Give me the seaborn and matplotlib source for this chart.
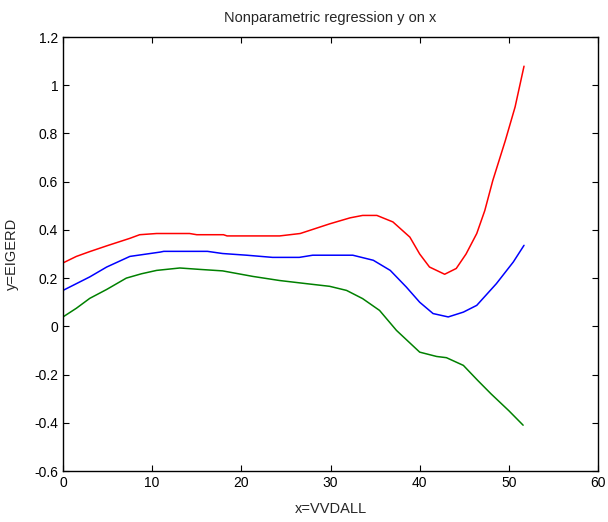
import numpy as np
import pandas as pd
import matplotlib
matplotlib.use('Agg')
import matplotlib.pyplot as plt
import seaborn as sns

# upper band (red)
x_upper = [0, 1.5, 3, 5, 7.5, 8.6, 10.5, 14.2, 15, 18, 18.4, 24.3, 26.6, 29.9, 31, 32.2,
           33.6, 35.2, 37, 38.9, 40, 41.1, 42.8, 44.1, 45.2, 46.4, 47.3, 48.2, 49.6, 50.7, 51.7]
y_upper = [0.263, 0.29, 0.31, 0.335, 0.365, 0.38, 0.385, 0.385, 0.38, 0.38, 0.375, 0.375, 0.385,
           0.425, 0.437, 0.45, 0.46, 0.46, 0.433, 0.37, 0.30, 0.246, 0.216, 0.24, 0.30, 0.385,
           0.48, 0.605, 0.77, 0.91, 1.079]

# fit (blue)
x_fit = [0, 3, 4.9, 7.5, 10.9, 11.3, 16.2, 17.9, 20.6, 23.5, 26.5, 28, 31, 32.5, 34.8, 36.7,
         38.5, 40, 41.5, 43.2, 44.9, 46.4, 48.6, 50.5, 51.7]
y_fit = [0.149, 0.205, 0.246, 0.29, 0.308, 0.311, 0.311, 0.302, 0.295, 0.286, 0.286, 0.295,
         0.295, 0.295, 0.274, 0.232, 0.163, 0.10, 0.053, 0.039, 0.059, 0.087, 0.177, 0.267, 0.336]

# lower band (green)
x_lower = [0, 1.5, 3, 4.9, 7.1, 8.8, 10.5, 13.1, 15.4, 17.9, 21.3, 24.3, 27.3, 29.9, 31.8, 33.6,
           35.5, 37.4, 40, 41.9, 43, 44.9, 46.5, 48, 50, 51.6]
y_lower = [0.039, 0.075, 0.116, 0.153, 0.20, 0.218, 0.232, 0.242, 0.236, 0.23, 0.207, 0.19,
           0.177, 0.166, 0.149, 0.115, 0.066, -0.017, -0.107, -0.125, -0.13, -0.162, -0.224,
           -0.28, -0.35, -0.41]

sns.set_style('ticks')
plt.rcParams['font.family'] = ['Liberation Sans', 'DejaVu Sans']

fig = plt.figure(figsize=(6.08, 5.22), dpi=100)
ax = fig.add_axes([0.1036, 0.0977, 0.88, 0.8314])

sns.lineplot(x=x_upper, y=y_upper, color='red', linewidth=1.1, ax=ax)
sns.lineplot(x=x_fit, y=y_fit, color='blue', linewidth=1.1, ax=ax)
sns.lineplot(x=x_lower, y=y_lower, color='green', linewidth=1.1, ax=ax)

ax.set_xlim(0, 60)
ax.set_ylim(-0.6, 1.2)
ax.set_xticks(range(0, 61, 10))
ax.set_yticks(np.round(np.arange(-0.6, 1.21, 0.2), 1))
ax.set_yticklabels(['-0.6', '-0.4', '-0.2', '0', '0.2', '0.4', '0.6', '0.8', '1', '1.2'])
ax.tick_params(direction='in', top=True, right=True, length=4, labelsize=10, colors='black')
for s in ax.spines.values():
    s.set_visible(True)
    s.set_color('black')
    s.set_linewidth(1)

ax.set_title('Nonparametric regression y on x', fontsize=10.5, pad=11)
ax.set_xlabel('x=VVDALL', fontsize=10.5, labelpad=9)
ax.set_ylabel('y=EIGERD', fontsize=10.5, labelpad=11)

fig.savefig('out.png', dpi=100)
